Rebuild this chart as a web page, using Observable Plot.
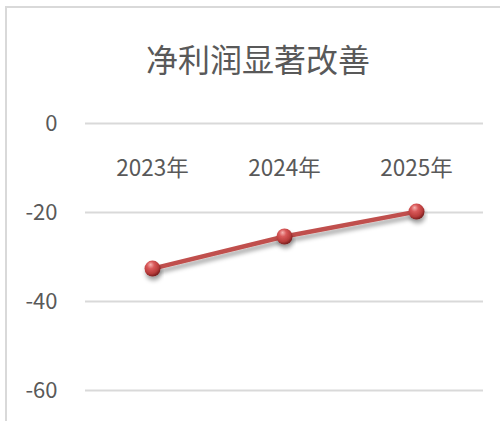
<!DOCTYPE html>
<html>
<head>
<meta charset="utf-8">
<script src="https://cdn.jsdelivr.net/npm/d3@7"></script>
<script src="https://cdn.jsdelivr.net/npm/@observablehq/plot@0.6"></script>
<style>
  html, body { margin: 0; padding: 0; background: #fff; }
  #wrap { position: relative; width: 500px; height: 421px; overflow: hidden; font-family: "Noto Sans CJK SC", "Noto Sans", sans-serif; }
  #border { position: absolute; left: 5px; top: 6px; width: 520px; height: 440px; border-left: 2px solid #d9d9d9; border-top: 2px solid #d9d9d9; box-sizing: border-box; }
  #title { position: absolute; left: 0; top: 36px; width: 516px; text-align: center; font-size: 32px; color: #595959; line-height: 44px; }
  #chart { position: absolute; left: 0; top: 0; }
</style>
</head>
<body>
<div id="wrap">
  <div id="border"></div>
  <div id="title">净利润显著改善</div>
  <div id="chart"></div>
</div>
<script>
const years = ["2023年", "2024年", "2025年"];
const netProfit = [-32.6, -25.4, -19.8];
const yTicks = [0, -20, -40, -60];

const data = years.map((y, i) => ({year: y, value: netProfit[i]}));
const axisCross = [0];

const defs = () => {
  const d = d3.create("svg:defs");
  const g = d.append("radialGradient").attr("id", "ball").attr("cx", "40%").attr("cy", "35%").attr("r", "65%").attr("fx", "38%").attr("fy", "25%");
  g.append("stop").attr("offset", "0%").attr("stop-color", "#f6b3b1");
  g.append("stop").attr("offset", "35%").attr("stop-color", "#d9595a");
  g.append("stop").attr("offset", "75%").attr("stop-color", "#b83c3b");
  g.append("stop").attr("offset", "100%").attr("stop-color", "#7a1f1f");
  const f = d.append("filter").attr("id", "shadow").attr("x", "-20%").attr("y", "-50%").attr("width", "140%").attr("height", "250%");
  f.append("feDropShadow").attr("dx", 1).attr("dy", 4).attr("stdDeviation", 2.2).attr("flood-color", "#000").attr("flood-opacity", 0.35);
  return d.node();
};

const plot = Plot.plot({
  width: 500,
  height: 421,
  marginTop: 123,
  marginBottom: 31,
  marginLeft: 85,
  marginRight: 17,
  style: {fontFamily: '"Noto Sans CJK SC", "Noto Sans", sans-serif', fontSize: "22px", color: "#595959", background: "transparent", overflow: "visible"},
  x: {type: "point", domain: years, padding: 0.5, axis: null},
  y: {domain: [-60, 0], ticks: yTicks, axis: null, label: null},
  marks: [
    defs,
    Plot.gridY(yTicks, {stroke: "#d9d9d9", strokeOpacity: 1, strokeWidth: 2}),
    Plot.axisY(yTicks, {tickSize: 0, tickPadding: 28, fontSize: 22, fill: "#595959", label: null, tickFormat: d => d === 0 ? "0" : "-" + Math.abs(d)}),
    Plot.text(years, {x: d => d, y: () => axisCross[0], dy: 45, fontSize: 22.5, fill: "#595959", lineAnchor: "middle"}),
    Plot.line(data, {x: "year", y: "value", stroke: "#c0504d", strokeWidth: 4.5, className: "pline"}),
    Plot.dot(data, {x: "year", y: "value", r: 8, fill: "#c0504d", stroke: "none", className: "pdot"})
  ]
});

d3.select(plot).selectAll(".pline path").attr("filter", "url(#shadow)");
d3.select(plot).selectAll(".pdot circle").attr("fill", "url(#ball)").attr("filter", "url(#shadow)");
document.getElementById("chart").appendChild(plot);
</script>
</body>
</html>
